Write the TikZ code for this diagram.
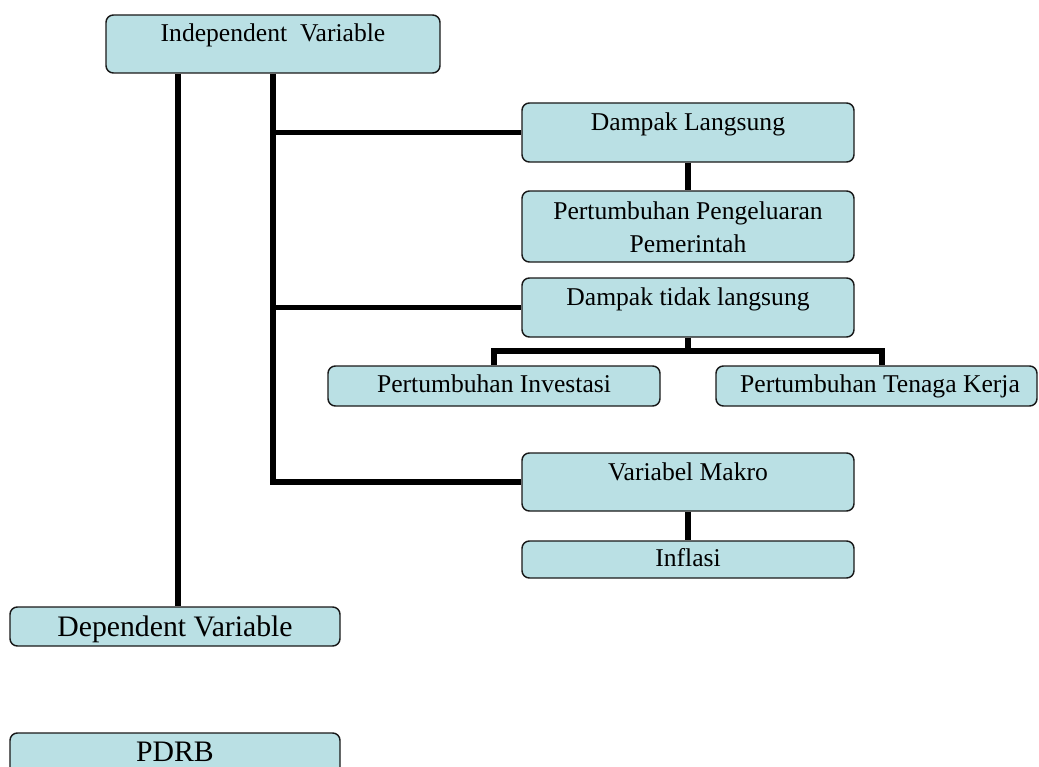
\documentclass[tikz,border=0pt]{standalone}
\usepackage{fontspec}
\setmainfont{Liberation Serif}
\definecolor{boxfill}{RGB}{186,224,228}
\definecolor{boxline}{RGB}{25,25,25}
\tikzset{
  box/.style={draw=boxline, line width=1.1pt, fill=boxfill, rounded corners=5.5pt, inner sep=0pt, minimum width=249pt},
  txt/.style={inner sep=0pt, anchor=base, font=\fontsize{19.2}{24.75}\selectfont},
  bigtxt/.style={inner sep=0pt, anchor=base, font=\fontsize{22.3}{26}\selectfont},
  conn/.style={line width=3.8pt, black, line cap=butt, line join=miter}
}
\begin{document}
\begin{tikzpicture}[x=0.75pt, y=-0.75pt]
\useasboundingbox (0,0) rectangle (1039,767);
\clip (0,0) rectangle (1039,767);
% boxes
\node[box, minimum width=250.5pt, minimum height=43.5pt] (ind) at (273,44) {};
\node[box, minimum height=44.25pt] (dl) at (688,132.5) {};
\node[box, minimum height=53.25pt] (ppp) at (688,226.5) {};
\node[box, minimum height=44.25pt] (dtl) at (688,307.5) {};
\node[box, minimum height=30pt] (pi) at (494,386) {};
\node[box, minimum width=240.75pt, minimum height=30pt] (ptk) at (876.5,386) {};
\node[box, minimum height=43.5pt] (vm) at (688,482) {};
\node[box, minimum height=27.75pt] (inf) at (688,559.5) {};
\node[box, minimum width=247.5pt, minimum height=29.25pt] (dep) at (175,626.5) {};
\node[box, minimum width=247.5pt, minimum height=43.5pt] (pdrb) at (175,762) {};
% texts
\node[txt] (tind) at (273,42) {Independent\ \ Variable};
\node[txt] (tdl) at (688,130) {Dampak Langsung};
\node[txt] (tppp1) at (688,219) {Pertumbuhan Pengeluaran};
\node[txt] (tppp2) at (688,252) {Pemerintah};
\node[txt] (tdtl) at (688,305) {Dampak tidak langsung};
\node[txt] (tpi) at (494,392) {Pertumbuhan Investasi};
\node[txt] (tptk) at (880,392) {Pertumbuhan Tenaga Kerja};
\node[txt] (tvm) at (688,480) {Variabel Makro};
\node[txt] (tinf) at (688,566) {Inflasi};
\node[bigtxt] (tdep) at (175,636) {Dependent Variable};
\node[bigtxt] (tpdrb) at (175,761) {PDRB};
% connectors
\coordinate (lv) at (178,0);
\coordinate (bus) at (273,0);
\coordinate (fk) at (688,351);
\coordinate (fr) at (882,0);
\draw[conn] (ind.south -| lv) -- (dep.north -| lv);
\draw[conn] (ind.south -| bus) -- (bus |- vm.west) -- (vm.west);
\draw[conn] (bus |- dl.west) -- (dl.west);
\draw[conn] (bus |- dtl.west) -- (dtl.west);
\draw[conn] (dl.south) -- (ppp.north);
\draw[conn] (dtl.south) -- (fk);
\draw[conn] (pi.north) -- (pi.north |- fk) -- (fr |- fk) -- (fr |- ptk.north);
\draw[conn] (vm.south) -- (inf.north);
\end{tikzpicture}
\end{document}
